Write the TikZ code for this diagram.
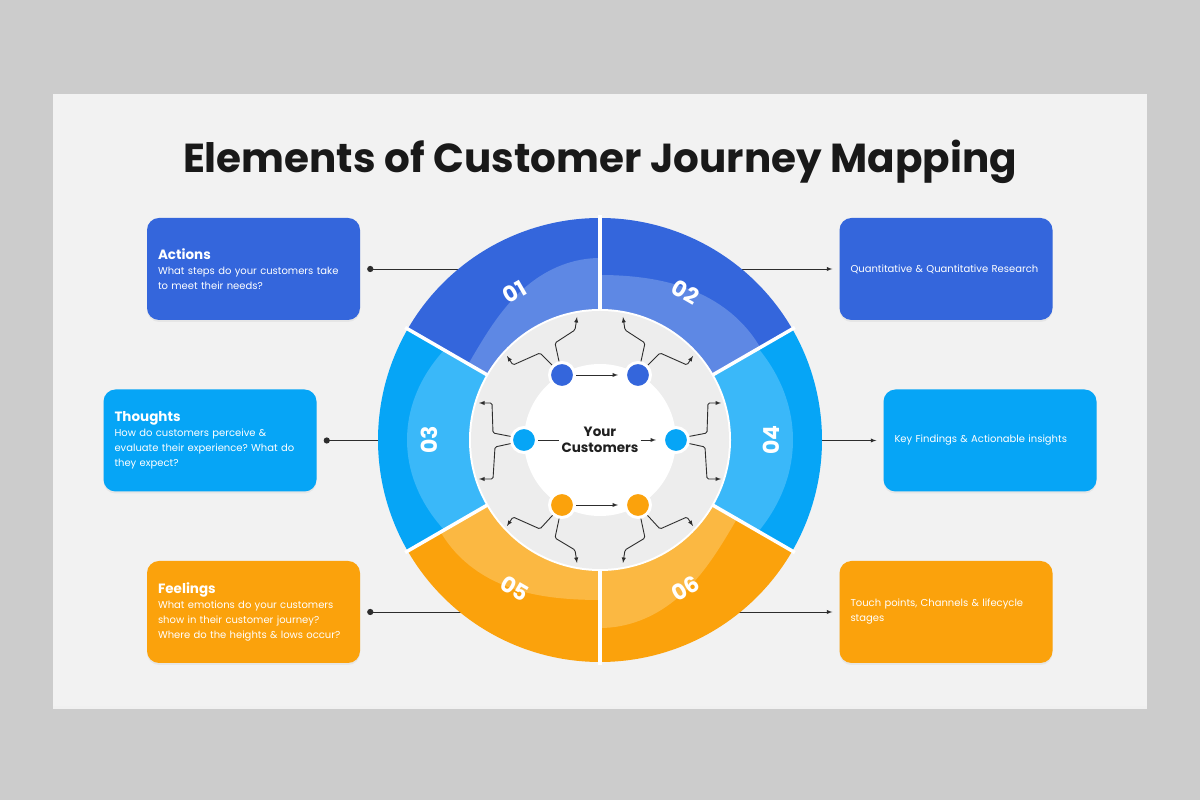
\documentclass[tikz,border=0pt]{standalone}
\usepackage{fontspec}
\setmainfont{Poppins}
\usepackage{tikz}
\usetikzlibrary{arrows}
\usetikzlibrary{calc}
\usetikzlibrary{shadows}
\definecolor{DarkBlue}{RGB}{52,102,220}
\definecolor{DarkBlueLight}{RGB}{94,136,228}
\definecolor{SkyBlue}{RGB}{6,165,246}
\definecolor{SkyBlueLight}{RGB}{58,184,249}
\definecolor{Amber}{RGB}{251,162,12}
\definecolor{AmberLight}{RGB}{251,184,66}
\definecolor{PageGray}{RGB}{204,204,204}
\definecolor{CardGray}{RGB}{242,242,242}
\definecolor{HubGray}{RGB}{237,237,237}
\definecolor{InkGray}{RGB}{45,45,45}

\begin{document}
\begin{tikzpicture}[x=1pt,y=1pt,>=latex,
  infobox/.style={rounded corners=12pt,text width=191pt,minimum height=102pt,inner sep=11pt,align=left,text=white,font=\frenchspacing\fontsize{10}{15}\selectfont,drop shadow={opacity=0.10,shadow xshift=0pt,shadow yshift=-2pt}},
  dotnode/.style={circle,minimum size=25pt,inner sep=0pt,draw=white,line width=3pt},
  link/.style={InkGray,line width=0.9pt},
  branch/.style={InkGray,line width=0.9pt,->,rounded corners=1.5pt}]
      \fill[PageGray] (0,0) rectangle (1200,800);
      \useasboundingbox (0,0) rectangle (1200,800);
      \fill[black!6] (53,91) rectangle (1147,706);
      \fill[CardGray] (53,94) rectangle (1147,706);
      \node[font=\bfseries\fontsize{40.5}{46}\selectfont,text=black!90] (title) at (600,638) {Elements of Customer Journey Mapping};
      \coordinate (hub) at (600,360);
      \node[infobox,fill=DarkBlue] (actions) at (253.5,531) {{\bfseries\fontsize{13.5}{16}\selectfont Actions}\\What steps do your customers take\\to meet their needs?};
      \node[infobox,fill=SkyBlue] (thoughts) at (210,359.5) {{\bfseries\fontsize{13.5}{16}\selectfont Thoughts}\\How do customers perceive \&\\evaluate their experience? What do\\they expect?};
      \node[infobox,fill=Amber] (feelings) at (253.5,188) {{\bfseries\fontsize{13.5}{16}\selectfont Feelings}\\What emotions do your customers\\show in their customer journey?\\Where do the heights \& lows occur?};
      \node[infobox,fill=DarkBlue] (research) at (946,531) {Quantitative \& Quantitative Research};
      \node[infobox,fill=SkyBlue] (findings) at (990,359.5) {Key Findings \& Actionable insights};
      \node[infobox,fill=Amber] (touch) at (946,188) {Touch points, Channels \& lifecycle\\stages};
      \draw[link,*-,shorten <=7pt] (actions.east) -- (actions.east -| hub);
      \draw[link,*-,shorten <=7pt] (thoughts.east) -- (thoughts.east -| hub);
      \draw[link,*-,shorten <=7pt] (feelings.east) -- (feelings.east -| hub);
      \draw[link,->,shorten >=7pt] (research.west -| hub) -- (research.west);
      \draw[link,->,shorten >=7pt] (findings.west -| hub) -- (findings.west);
      \draw[link,->,shorten >=7pt] (touch.west -| hub) -- (touch.west);
      \begin{scope}[shift={(hub)}]
        \foreach \a/\b/\base/\soft/\m/\d/\e/\lab/\rot in {90/150/DarkBlue/DarkBlueLight/167/15/0/01/30,30/90/DarkBlue/DarkBlueLight/175/10/0/02/-30,150/210/SkyBlue/SkyBlueLight/180/0/13/03/90,-30/30/SkyBlue/SkyBlueLight/183/0/10/04/90,210/270/Amber/AmberLight/172/12/0/05/-30,270/330/Amber/AmberLight/173/15/0/06/30}{
          \fill[\base] (\a:130) -- (\a:222) arc[start angle=\a,end angle=\b,radius=222] -- (\b:130) arc[start angle=\b,end angle=\a,radius=130] -- cycle;
          \fill[\soft] plot[domain=\a:\b,samples=40] (\x:{\m+\d*cos(3*(\x-\a))+\e*sin(3*(\x-\a))}) -- (\b:130) arc[start angle=\b,end angle=\a,radius=130] -- cycle;
          \node[rotate=\rot,text=white,font=\bfseries\fontsize{22}{22}\selectfont] (seg\lab) at ({(\a+\b)/2}:171) {\lab};
        }
        \foreach \t in {30,90,...,330}
          \draw[white,line width=3.5pt] (\t:127) -- (\t:225);
        \fill[white] (0,0) circle[radius=131];
        \fill[HubGray] (0,0) circle[radius=129];
        \fill[black!7] (0,-2) circle[radius=78];
        \fill[white] (0,0) circle[radius=76];
      \end{scope}
      \node[dotnode,fill=DarkBlue] (c1) at (562,425) {};
      \node[dotnode,fill=DarkBlue] (c2) at (638,425) {};
      \node[dotnode,fill=SkyBlue] (c3) at (524,360) {};
      \node[dotnode,fill=SkyBlue] (c4) at (676,360) {};
      \node[dotnode,fill=Amber] (c5) at (562,295) {};
      \node[dotnode,fill=Amber] (c6) at (638,295) {};
      \node[font=\bfseries\fontsize{13.5}{16}\selectfont,align=center,text=black!88,fill=white,inner sep=2pt] (you) at (600,360) {Your\\Customers};
      \draw[link,->,shorten >=6pt] (c1) -- (c2);
      \draw[link,->,shorten >=6pt] (c5) -- (c6);
      \draw[link] (c3) -- (you);
      \draw[link,->,shorten >=6pt] (you) -- (c4);
      \draw[branch] (c1) -- (540,447) -- (513,435) -- (507,444);
      \draw[branch] (c1) -- (555,457) -- (575,470) -- (577,483);
      \draw[branch] (c2) -- (645,457) -- (625,470) -- (623,483);
      \draw[branch] (c2) -- (660,447) -- (687,435) -- (693,444);
      \draw[branch] (c3.165) -- (493,367) -- (492,397) -- (479,397);
      \draw[branch] (c3.195) -- (495,353) -- (493,321) -- (479,321);
      \draw[branch] (c4.15) -- (707,367) -- (708,397) -- (721,397);
      \draw[branch] (c4.-15) -- (705,353) -- (707,321) -- (721,321);
      \draw[branch] (c5) -- (540,271) -- (513,283) -- (507,274);
      \draw[branch] (c5) -- (555,262) -- (575,250) -- (577,237);
      \draw[branch] (c6) -- (645,262) -- (625,250) -- (623,237);
      \draw[branch] (c6) -- (660,271) -- (687,283) -- (693,274);
    \end{tikzpicture}
\end{document}
